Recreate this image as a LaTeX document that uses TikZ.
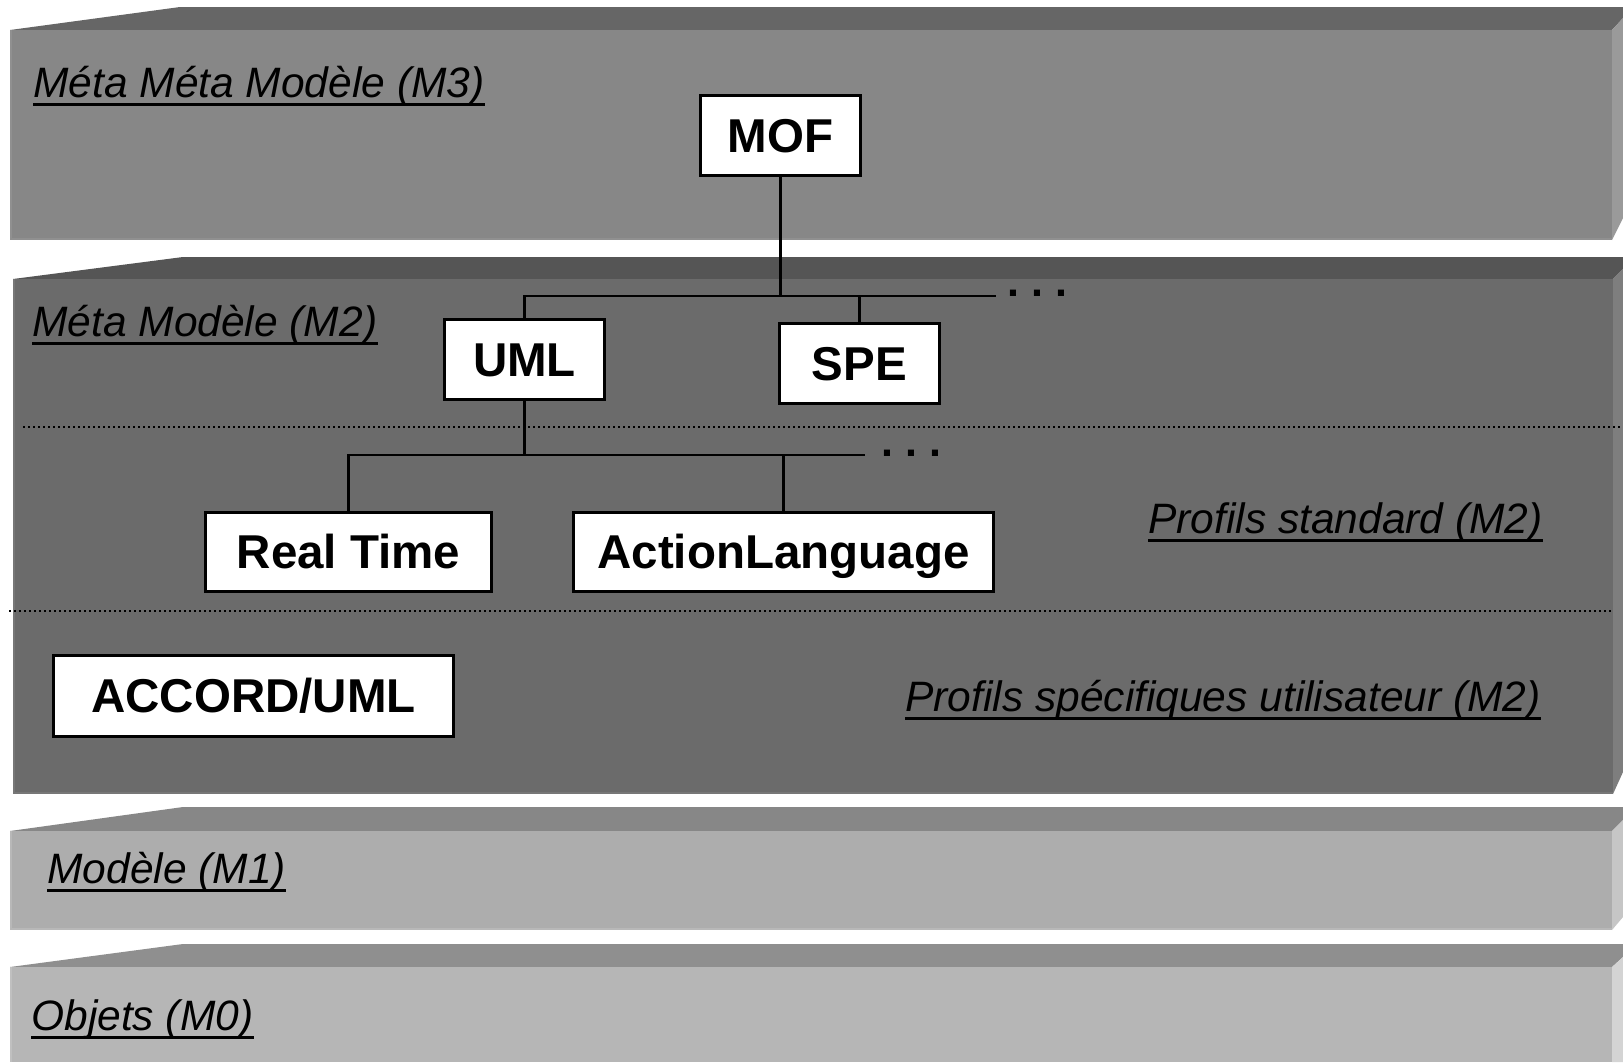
\documentclass[tikz,border=0pt]{standalone}
\usepackage{fontspec}
\setmainfont{Liberation Sans}
\definecolor{topA}{HTML}{666666}\definecolor{frontA}{HTML}{878787}\definecolor{sideA}{HTML}{9A9A9A}\definecolor{edgeA}{HTML}{909090}
\definecolor{topB}{HTML}{555555}\definecolor{frontB}{HTML}{6B6B6B}\definecolor{sideB}{HTML}{7E7E7E}\definecolor{edgeB}{HTML}{777777}
\definecolor{topC}{HTML}{878787}\definecolor{frontC}{HTML}{ADADAD}\definecolor{sideC}{HTML}{C6C6C6}\definecolor{edgeC}{HTML}{B8B8B8}
\definecolor{topD}{HTML}{8F8F8F}\definecolor{frontD}{HTML}{B6B6B6}\definecolor{sideD}{HTML}{D4D4D4}\definecolor{edgeD}{HTML}{C0C0C0}
\begin{document}
\begin{tikzpicture}[x=0.5pt,y=-0.5pt,
  box/.style={draw=black,line width=1.5pt,fill=white,inner sep=0pt,
    font=\bfseries\fontsize{23.75pt}{28pt}\selectfont,text height=17pt,text depth=0pt},
  lbl/.style={font=\itshape\fontsize{21.25pt}{26pt}\selectfont,inner sep=0pt,anchor=base west},
  ul/.style={line width=1.4pt},
  conn/.style={line width=1.4pt},
  dotline/.style={line width=1pt,dash pattern=on 1pt off 1.5pt},
  dotsl/.style={font=\bfseries\fontsize{21.5pt}{26pt}\selectfont,inner sep=0pt,anchor=base west},
  edge/.style={line width=1pt}]
\fill[white] (0,0) rectangle (1623,1062);
\useasboundingbox (0,0) rectangle (1623,1062);
% slab M3
\fill[topA] (10,30) -- (180,7) -- (1623,7) -- (1623,18) -- (1612,30) -- cycle;
\fill[sideA] (1612,30) -- (1623,18) -- (1623,218) -- (1612,240) -- cycle;
\fill[frontA] (10,30) rectangle (1612,240);
\draw[edgeA,edge] (11,30) -- (11,239) -- (1612,239);
% slab M2
\fill[topB] (13,279) -- (183,257) -- (1623,257) -- (1623,269) -- (1613,279) -- cycle;
\fill[sideB] (1613,279) -- (1623,269) -- (1623,772) -- (1613,794) -- cycle;
\fill[frontB] (13,279) rectangle (1613,794);
\draw[edgeB,edge] (14,279) -- (14,793) -- (1613,793);
% slab M1
\fill[topC] (10,831) -- (183,807) -- (1623,807) -- (1623,820) -- (1612,831) -- cycle;
\fill[sideC] (1612,831) -- (1623,820) -- (1623,917) -- (1612,930) -- cycle;
\fill[frontC] (10,831) rectangle (1612,930);
\draw[edgeC,edge] (11,831) -- (11,929) -- (1612,929);
% slab M0
\fill[topD] (10,967) -- (183,944) -- (1623,944) -- (1623,957) -- (1612,967) -- cycle;
\fill[sideD] (1612,967) -- (1623,957) -- (1623,1062) -- (1612,1062) -- cycle;
\fill[frontD] (10,967) rectangle (1612,1062);
\draw[edgeD,edge] (11,967) -- (11,1062);
% dotted separators
\draw[dotline] (23,427) -- (1623,427);
\draw[dotline] (9,611) -- (1613,611);
% layer labels
\node[lbl] (l3) at (33,97) {Méta Méta Modèle (M3)};
\node[lbl] (l2) at (32,336) {Méta Modèle (M2)};
\node[lbl] (l1) at (47,883) {Modèle (M1)};
\node[lbl] (l0) at (31,1030) {Objets (M0)};
\node[lbl] (ps) at (1148,533) {Profils standard (M2)};
\node[lbl] (pu) at (905,711) {Profils spécifiques utilisateur (M2)};
\foreach \n in {l3,l2,l1,l0,ps,pu}
  \draw[ul] ([yshift=-3.7pt]\n.base west) -- ([yshift=-3.7pt]\n.base east);
% boxes
\node[box,minimum width=80pt,minimum height=40pt] (mof) at (780.5,135) {MOF};
\node[box,minimum width=80pt,minimum height=40pt] (uml) at (524.5,359) {UML};
\node[box,minimum width=80pt,minimum height=40pt] (spe) at (859.5,363) {SPE};
\node[box,minimum width=143pt,minimum height=39.5pt] (rt) at (348.5,551.5) {Real Time};
\node[box,minimum width=210pt,minimum height=39.5pt] (al) at (783.5,551.5) {ActionLanguage};
\node[box,minimum width=200pt,minimum height=40.5pt] (acc) at (253.5,695.5) {ACCORD/UML};
% tree ends and dots
\coordinate (e1) at (996,296);
\coordinate (e2) at (865,455);
\node[dotsl] (d1) at (1007,296) {.\kern6pt.\kern6pt.};
\node[dotsl] (d2) at (881,456) {.\kern6pt.\kern6pt.};
% connectors
\draw[conn] (mof.south) -- (mof.south |- e1);
\draw[conn] (uml.north) |- (e1);
\draw[conn] (spe.north) -- (spe.north |- e1);
\draw[conn] (uml.south) -- (uml.south |- e2);
\draw[conn] (rt.north) |- (e2);
\draw[conn] (al.north) -- (al.north |- e2);
\end{tikzpicture}
\end{document}
